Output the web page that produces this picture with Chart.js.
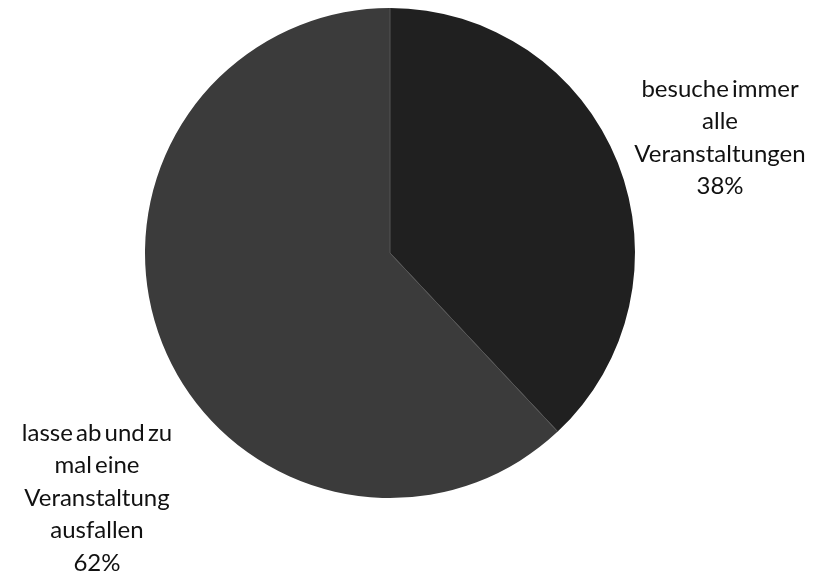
<!DOCTYPE html>
<html>
<head>
<meta charset="utf-8">
<script src="https://cdn.jsdelivr.net/npm/chart.js@4"></script>
<style>
  html,body{margin:0;padding:0;background:#fff;}
  #wrap{width:814px;height:573px;position:relative;}
</style>
</head>
<body>
<div id="wrap"><canvas id="pie" width="814" height="573"></canvas></div>
<script>
const categories = [['besuche immer','alle','Veranstaltungen'], ['lasse ab und zu','mal eine','Veranstaltung','ausfallen']];
const shares = [38, 62];
const sliceColors = ['#202020', '#3b3b3b'];

// where each label sits, relative to pie centre in units of the radius
const labelAnchors = [{dx:1.347, dy:-0.47}, {dx:-1.196, dy:1.0}];

// thin grey seams between the slices (no outline round the pie)
const seams = {
  id:'seams',
  afterDatasetsDraw(c){
    const ctx = c.ctx;
    ctx.save();
    ctx.strokeStyle = '#555'; ctx.lineWidth = 1;
    c.getDatasetMeta(0).data.forEach(arc => {
      ctx.beginPath();
      ctx.moveTo(arc.x, arc.y);
      ctx.lineTo(arc.x + Math.cos(arc.startAngle) * arc.outerRadius, arc.y + Math.sin(arc.startAngle) * arc.outerRadius);
      ctx.stroke();
    });
    ctx.restore();
  }
};

const outsideLabels = {
  id:'outsideLabels',
  afterDraw(c){
    const meta = c.getDatasetMeta(0), ctx = c.ctx;
    ctx.save();
    ctx.font = '24px Lato, "Noto Sans", sans-serif';
    ctx.wordSpacing = '-3px';
    ctx.fillStyle = '#111';
    ctx.textAlign = 'center'; ctx.textBaseline = 'middle';
    meta.data.forEach((arc, i) => {
      const lines = [...categories[i], shares[i] + '%'];
      const cx = arc.x + labelAnchors[i].dx * arc.outerRadius;
      const cy = arc.y + labelAnchors[i].dy * arc.outerRadius;
      const lh = 32.5, top = cy - (lines.length - 1) * lh / 2;
      lines.forEach((t, k) => ctx.fillText(t, cx, top + k * lh));
    });
    ctx.restore();
  }
};

new Chart(document.getElementById('pie'), {
  type:'pie',
  data:{
    labels: categories.map(l => l.join(' ')),
    datasets:[{data:shares, backgroundColor:sliceColors, borderWidth:0}]
  },
  options:{
    responsive:false, animation:false,
    layout:{padding:{left:145, right:179, top:8, bottom:75}},
    plugins:{legend:{display:false}, tooltip:{enabled:false}}
  },
  plugins:[seams, outsideLabels]
});
</script>
</body>
</html>
